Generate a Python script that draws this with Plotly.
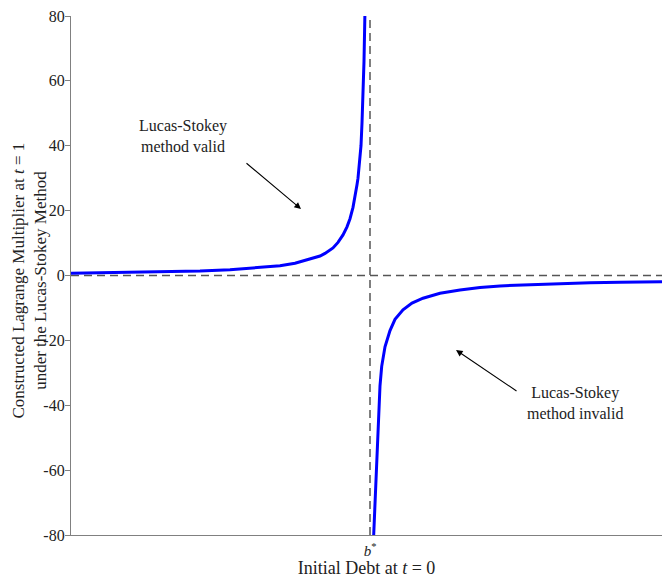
import plotly.graph_objects as go

# Initial debt, measured relative to b* (b* = 0)
debt_left = [-2.99, -2.5, -2.0, -1.7, -1.4, -1.2, -1.0, -0.9, -0.75, -0.6, -0.5, -0.45, -0.4, -0.37,
             -0.32, -0.27, -0.23, -0.20, -0.17, -0.15, -0.13, -0.12, -0.105, -0.09, -0.08, -0.07, -0.06, -0.05]
mult_left = [0.7, 0.9, 1.15, 1.4, 1.8, 2.2, 2.7, 3.0, 3.8, 5.1, 6.0, 6.8, 7.7, 8.5,
             10.2, 12.5, 15, 17.5, 21, 24, 28, 30, 35, 40, 47, 55, 66, 82]
debt_right = [0.03, 0.05, 0.067, 0.075, 0.083, 0.1, 0.117, 0.15, 0.2, 0.25, 0.33, 0.42, 0.53,
              0.7, 0.9, 1.1, 1.3, 1.6, 1.9, 2.2, 2.5, 2.92]
mult_right = [-85, -70, -57, -50, -42, -34, -28, -22, -17, -13.5, -10.6, -8.5, -7,
              -5.5, -4.5, -3.7, -3.2, -2.8, -2.4, -2.2, -2.1, -1.9]

b_star = 0.0
y_ticks = [-80, -60, -40, -20, 0, 20, 40, 60, 80]
y_ticklabels = ["-80", "-60", "-40", "-20", "0", "20", "40", "60", "80"]

FONT = "Liberation Serif, DejaVu Serif, serif"

fig = go.Figure()
fig.add_trace(go.Scatter(x=debt_left, y=mult_left, mode="lines",
                         line=dict(color="#0000ff", width=3), showlegend=False))
fig.add_trace(go.Scatter(x=debt_right, y=mult_right, mode="lines",
                         line=dict(color="#0000ff", width=3), showlegend=False))

fig.add_shape(type="line", xref="x", yref="paper", x0=b_star, x1=b_star, y0=0, y1=1,
              line=dict(color="#555555", width=1.5, dash="8px,5px"), layer="below")
fig.add_shape(type="line", xref="paper", yref="y", x0=0, x1=1, y0=0, y1=0,
              line=dict(color="#555555", width=1.5, dash="8px,5px"), layer="below")

fig.add_annotation(x=-0.69, y=20.5, ax=-1.25, ay=35, xref="x", yref="y", axref="x", ayref="y",
                   text="", showarrow=True, arrowhead=2, arrowsize=1.2, arrowwidth=1.1, arrowcolor="black")
fig.add_annotation(x=-1.87, y=43, xref="x", yref="y", text="Lucas-Stokey<br>method valid",
                   showarrow=False, font=dict(family=FONT, size=16, color="#222"))
fig.add_annotation(x=0.86, y=-23, ax=1.48, ay=-35.9, xref="x", yref="y", axref="x", ayref="y",
                   text="", showarrow=True, arrowhead=2, arrowsize=1.2, arrowwidth=1.1, arrowcolor="black")
fig.add_annotation(x=2.05, y=-39.3, xref="x", yref="y", text="Lucas-Stokey<br>method invalid",
                   showarrow=False, font=dict(family=FONT, size=16, color="#222"))

# y-axis title placed as a rotated annotation
fig.add_annotation(x=-0.0705, y=0.491, xref="paper", yref="paper", textangle=-90,
                   xanchor="center", yanchor="middle", showarrow=False,
                   text="Constructed Lagrange Multiplier at <i>t</i> = 1<br>under the Lucas-Stokey Method",
                   font=dict(family=FONT, size=17, color="#222"))

fig.update_layout(
    width=662, height=578,
    margin=dict(l=71, r=0, t=16, b=43),
    paper_bgcolor="white", plot_bgcolor="white",
    font=dict(family=FONT, size=16, color="#222"),
    xaxis=dict(range=[-2.99, 2.92], showgrid=False, zeroline=False,
               showline=True, linecolor="#808080", linewidth=1.3,
               tickvals=[b_star], ticktext=["<i>b</i><sup>*</sup>"],
               ticks="", ticklabelstandoff=2, tickfont=dict(size=15),
               title=dict(text="Initial Debt at <i>t</i> = 0", standoff=1,
                          font=dict(family=FONT, size=18))),
    yaxis=dict(range=[-80, 80], showgrid=False, zeroline=False,
               showline=True, linecolor="#808080", linewidth=1.3,
               tickvals=y_ticks, ticktext=y_ticklabels,
               ticks="outside", ticklen=5, tickcolor="#808080", ticklabelstandoff=-3),
)

fig.write_html("out.html", post_script="document.body.style.margin='0';",
               config={"displayModeBar": False})
